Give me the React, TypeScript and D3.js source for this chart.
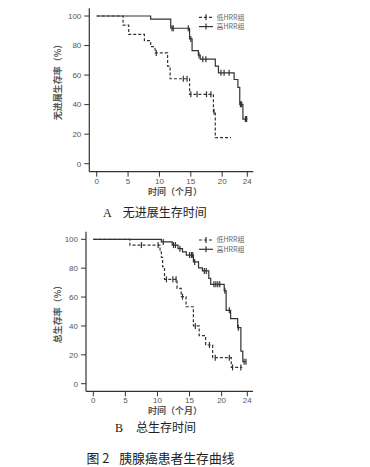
import React from 'react';
import * as d3 from 'd3';

// ---- data ----
const xTicks = [0, 5, 10, 15, 20, 24];
const yTicks = [0, 20, 40, 60, 80, 100];
const groupNames = ['低HRR组', '高HRR组'];

// A: progression-free survival
const pfsLowTimes = [0, 4.2, 5.1, 7.6, 8.6, 9.3, 11.3, 11.7, 14.8, 18.6, 18.9, 21.4];
const pfsLowSurv = [100, 93.8, 87.5, 83.3, 79.2, 75, 66, 57.5, 47, 35.2, 17.6, 17.6];
const pfsLowCensor = [9.5, 13.8, 14.4, 15.0, 16.0, 17.5, 18.2, 18.7];

const pfsHighTimes = [0, 8.6, 11.8, 14.8, 15.2, 16.2, 16.5, 18.9, 19.4, 21.9, 22.5, 22.8, 23.3, 24.0];
const pfsHighSurv = [100, 97.9, 91.7, 84.5, 76.5, 73.5, 70.8, 66, 61.5, 57, 51.7, 40.2, 30.2, 30.2];
const pfsHighCensor = [12.0, 12.2, 14.6, 15.0, 16.3, 16.9, 17.4, 19.8, 20.3, 21.1, 22.9, 23.1, 23.7, 23.9];

// B: overall survival
const osLowTimes = [0, 5.7, 10.4, 10.6, 10.8, 11.1, 13.05, 13.7, 14.45, 15.6, 16.5, 17.5, 18.6, 21.5, 23.2];
const osLowSurv = [100, 96, 92, 87.5, 81, 72.3, 66, 60.3, 53.3, 40, 33.3, 26.8, 18, 11.3, 11.3];
const osLowCensor = [7.5, 10.1, 11.4, 12.4, 12.9, 13.9, 15.9, 18.1, 19.0, 21.2, 21.7, 23.0];

const osHighTimes = [0, 10.6, 12.3, 13.2, 13.9, 14.5, 15.6, 16.4, 17.0, 18.0, 18.3, 20.4, 20.7, 21.4, 22.5, 23.0, 23.3, 23.8];
const osHighSurv = [100, 98.2, 96, 93.5, 91.3, 89.1, 84.3, 80.2, 78.1, 73, 68.8, 64.4, 50.8, 45, 38.8, 22.6, 15.2, 15.2];
const osHighCensor = [10.9, 12.5, 12.8, 13.5, 15.0, 15.3, 15.5, 15.8, 17.3, 17.6, 18.8, 19.1, 19.4, 19.7, 20.5, 21.2, 22.6, 23.5, 23.8];

type Curve = { times: number[]; surv: number[]; censor: number[]; dashed: boolean };

const cjk = '"Noto Sans CJK SC", "Noto Sans", sans-serif';
const latin = '"Liberation Sans", Arial, sans-serif';
const ink = '#333';
const labelInk = '#555';

type ChartProps = {
  curves: Curve[];
  yTitle: string;
  x0: number; x24: number;
  y100: number; y0: number;
  axisX: number; axisY: number;
  axisTop: number; axisRight: number;
  legendY: number;
  yTitleY: number;
  xTitleY: number;
};

function survAt(times: number[], surv: number[], t: number) {
  let v = surv[0];
  for (let i = 0; i < times.length; i++) if (times[i] <= t) v = surv[i];
  return v;
}

const KMChart = (p: ChartProps) => {
  const x = d3.scaleLinear().domain([0, 24]).range([p.x0, p.x24]);
  const y = d3.scaleLinear().domain([0, 100]).range([p.y0, p.y100]);
  const line = d3.line<[number, number]>()
    .x(d => x(d[0]))
    .y(d => y(d[1]))
    .curve(d3.curveStepAfter);

  return (
    <g>
      {/* axes */}
      <line x1={p.axisX} x2={p.axisX} y1={p.axisTop} y2={p.axisY} stroke={ink} strokeWidth={1.2} />
      <line x1={p.axisX} x2={p.axisRight} y1={p.axisY} y2={p.axisY} stroke={ink} strokeWidth={1.2} />
      {yTicks.map(t => (
        <g key={'y' + t}>
          <line x1={p.axisX - 5} x2={p.axisX} y1={y(t)} y2={y(t)} stroke={ink} strokeWidth={1} />
          <text x={p.axisX - 8} y={y(t)} dy="0.35em" textAnchor="end" fontSize={8}
            fontFamily={latin} fill={labelInk}>{t}</text>
        </g>
      ))}
      {xTicks.map(t => (
        <g key={'x' + t}>
          <line x1={x(t)} x2={x(t)} y1={p.axisY} y2={p.axisY + 5} stroke={ink} strokeWidth={1} />
          <text x={x(t)} y={p.axisY + 12} textAnchor="middle" fontSize={8}
            fontFamily={latin} fill={labelInk}>{t}</text>
        </g>
      ))}
      <text x={175} y={p.xTitleY} textAnchor="middle" fontSize={9} fontWeight="bold"
        fontFamily={cjk} fill={labelInk}>时间（个月）</text>
      <text transform={`translate(58,${p.yTitleY}) rotate(-90)`} textAnchor="middle"
        dy="0.35em" fontSize={9} fontWeight="bold" fontFamily={cjk} fill={labelInk}>{p.yTitle}</text>

      {/* curves */}
      {p.curves.map((c, i) => (
        <g key={i}>
          <path
            d={line(c.times.map((t, j) => [t, c.surv[j]] as [number, number])) || ''}
            fill="none" stroke={ink} strokeWidth={1.2}
            strokeDasharray={c.dashed ? '3,2' : undefined}
          />
          {c.censor.map((t, j) => {
            const cy = y(survAt(c.times, c.surv, t));
            return <line key={j} x1={x(t)} x2={x(t)} y1={cy - 3} y2={cy + 3} stroke={ink} strokeWidth={1.2} />;
          })}
        </g>
      ))}

      {/* legend */}
      {groupNames.map((name, i) => {
        const ly = p.legendY + i * 9.3;
        return (
          <g key={name}>
            <line x1={199} x2={213} y1={ly} y2={ly} stroke={ink} strokeWidth={1.2}
              strokeDasharray={i === 0 ? '3,2' : undefined} />
            <line x1={206} x2={206} y1={ly - 3} y2={ly + 3} stroke={ink} strokeWidth={1.2} />
            <text x={216.5} y={ly} dy="0.35em" fontSize={7} fontFamily={cjk} fill="#666">{name}</text>
          </g>
        );
      })}
    </g>
  );
};

export default function App() {
  const pfsCurves: Curve[] = [
    { times: pfsLowTimes, surv: pfsLowSurv, censor: pfsLowCensor, dashed: true },
    { times: pfsHighTimes, surv: pfsHighSurv, censor: pfsHighCensor, dashed: false },
  ];
  const osCurves: Curve[] = [
    { times: osLowTimes, surv: osLowSurv, censor: osLowCensor, dashed: true },
    { times: osHighTimes, surv: osHighSurv, censor: osHighCensor, dashed: false },
  ];
  return (
    <div style={{ position: 'absolute', left: 0, top: 0 }}>
      <svg width={370} height={467} style={{ display: 'block', background: '#fff' }}>
        <KMChart curves={pfsCurves} yTitle="无进展生存率（%）"
          x0={96.7} x24={247.3} y100={16} y0={163.7}
          axisX={89.3} axisY={171.7} axisTop={8.3} axisRight={253.3}
          legendY={17.3} yTitleY={80} xTitleY={195} />
        <KMChart curves={osCurves} yTitle="总生存率（%）"
          x0={93.3} x24={247.3} y100={239.3} y0={383.7}
          axisX={86} axisY={391.3} axisTop={231.7} axisRight={253}
          legendY={240} yTitleY={312} xTitleY={414} />

        <text x={103} y={217.2} fontSize={12} fontFamily={cjk} fill="#222">
          <tspan fontFamily='"Liberation Serif", serif'>A</tspan>
          <tspan x={122.7}>无进展生存时间</tspan>
        </text>
        <text x={115} y={432.2} fontSize={12} fontFamily={cjk} fill="#222">
          <tspan fontFamily='"Liberation Serif", serif'>B</tspan>
          <tspan x={136}>总生存时间</tspan>
        </text>
        <text x={86.5} y={462.5} fontSize={12.8} fontFamily={cjk} fill="#222">
          <tspan>图 2</tspan>
          <tspan x={119.3}>胰腺癌患者生存曲线</tspan>
        </text>
      </svg>
    </div>
  );
}
